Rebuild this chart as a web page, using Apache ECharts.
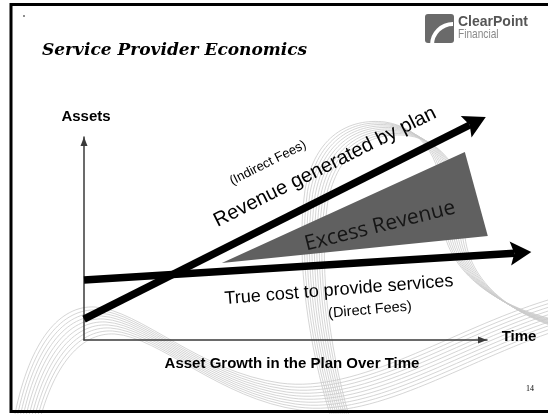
<!DOCTYPE html>
<html>
<head>
<meta charset="utf-8">
<script src="https://cdn.jsdelivr.net/npm/echarts@6/dist/echarts.min.js"></script>
<style>
  html, body { margin: 0; padding: 0; background: #fff; }
  #chart { width: 548px; height: 414px; }
</style>
</head>
<body>
<div id="chart"></div>
<script>
// Conceptual scale: time on x, plan assets on y (both 0..100 at the axis arrows)
const axisRange = [0, 100];

// Revenue generated by the plan (indirect fees): start point and arrow tip
const revenueLine = [[0, 10.3], [99.7, 109.9]];
// True cost to provide services (direct fees): start point and arrow tip
const costLine = [[0, 29.6], [111, 43.3]];
// Excess revenue wedge between the two lines
const excessArea = [[34.2, 37.9], [94.5, 92.6], [100.2, 51.2]];

const titleText = 'Service Provider Economics';
const yAxisName = 'Assets';
const xAxisName = 'Time';
const xAxisCaption = 'Asset Growth in the Plan Over Time';
const revenueLabel = 'Revenue generated by plan';
const revenueNote = '(Indirect Fees)';
const excessLabel = 'Excess Revenue';
const costLabel = 'True cost to provide services';
const costNote = '(Direct Fees)';
const pageNumber = '14';

const SANS = '"Liberation Sans", Arial, sans-serif';

// Thick arrow: body line plus a notched head, positioned through the axes
function arrowItem(points, color, width, headLen, headHalf, notch) {
  return function (params, api) {
    const p0 = api.coord(points[0]);
    const p1 = api.coord(points[1]);
    const dx = p1[0] - p0[0], dy = p1[1] - p0[1];
    const len = Math.sqrt(dx * dx + dy * dy);
    const ux = dx / len, uy = dy / len;
    const px = -uy, py = ux;
    const bx = p1[0] - ux * headLen, by = p1[1] - uy * headLen;
    const nx = p1[0] - ux * (headLen - notch), ny = p1[1] - uy * (headLen - notch);
    return {
      type: 'group',
      children: [
        {
          type: 'line',
          shape: { x1: p0[0], y1: p0[1], x2: nx, y2: ny },
          style: { stroke: color, lineWidth: width, lineCap: 'butt' }
        },
        {
          type: 'polygon',
          shape: { points: [
            [p1[0], p1[1]],
            [bx + px * headHalf, by + py * headHalf],
            [nx, ny],
            [bx - px * headHalf, by - py * headHalf]
          ] },
          style: { fill: color }
        }
      ]
    };
  };
}

// Decorative ribbon of thin grey curves behind the diagram
function ribbon(segments, count, ddx, ddy) {
  const els = [];
  for (let i = 0; i < count; i++) {
    segments.forEach(function (s) {
      els.push({
        type: 'bezierCurve',
        silent: true,
        z: 0,
        shape: {
          x1: s[0] + i * ddx, y1: s[1] + i * ddy,
          cpx1: s[2] + i * ddx, cpy1: s[3] + i * ddy,
          cpx2: s[4] + i * ddx, cpy2: s[5] + i * ddy,
          x2: s[6] + i * ddx, y2: s[7] + i * ddy
        },
        style: { stroke: '#cacaca', lineWidth: 0.8, fill: null }
      });
    });
  }
  return els;
}

const waveSegs = [
  [15, 414, 30, 340, 60, 305, 95, 307],
  [95, 307, 140, 310, 200, 372, 280, 383],
  [280, 383, 360, 394, 450, 330, 548, 300]
];
const loopSegs = [
  [330, 414, 310, 350, 295, 260, 305, 190],
  [305, 190, 315, 135, 350, 118, 385, 122],
  [385, 122, 425, 128, 445, 165, 442, 210],
  [442, 210, 440, 260, 480, 300, 548, 318]
];

function txt(text, x, y, font, fill, rot, align, sx) {
  return {
    type: 'text', x: x, y: y, rotation: (rot || 0) * Math.PI / 180, z: 100, silent: true,
    scaleX: sx || 1,
    style: {
      text: text, font: font, fill: fill || '#000',
      textAlign: align || 'center', textVerticalAlign: 'middle', verticalAlign: 'middle'
    }
  };
}

const chart = echarts.init(document.getElementById('chart'), null, { renderer: 'canvas' });

const option = {
  animation: false,
  backgroundColor: '#ffffff',
  grid: { left: 84, top: 137, width: 403, height: 203 },
  xAxis: {
    type: 'value', min: axisRange[0], max: axisRange[1],
    splitLine: { show: false }, axisTick: { show: false }, axisLabel: { show: false },
    axisLine: {
      show: true, symbol: ['none', 'triangle'], symbolSize: [7, 9], symbolOffset: [0, -4.5],
      lineStyle: { color: '#3a3a3a', width: 1.5 }
    }
  },
  yAxis: {
    type: 'value', min: axisRange[0], max: axisRange[1],
    splitLine: { show: false }, axisTick: { show: false }, axisLabel: { show: false },
    axisLine: {
      show: true, symbol: ['none', 'triangle'], symbolSize: [7, 9], symbolOffset: [0, -4.5],
      lineStyle: { color: '#3a3a3a', width: 1.5 }
    }
  },
  series: [
    {
      name: excessLabel, type: 'custom', silent: true, clip: false, z: 3,
      data: [excessArea.flat()],
      renderItem: function (params, api) {
        return {
          type: 'polygon',
          shape: { points: excessArea.map(function (p) { return api.coord(p); }) },
          style: { fill: '#606060' }
        };
      }
    },
    {
      name: costLabel, type: 'custom', silent: true, clip: false, z: 4,
      data: [costLine.flat()],
      renderItem: arrowItem(costLine, '#000', 7.5, 21, 12, 4)
    },
    {
      name: revenueLabel, type: 'custom', silent: true, clip: false, z: 5,
      data: [revenueLine.flat()],
      renderItem: arrowItem(revenueLine, '#000', 7.5, 22, 12, 4)
    }
  ],
  graphic: [].concat(
    ribbon(waveSegs, 10, 2.2, 3),
    ribbon(loopSegs, 10, 2.5, 1.5),
    [
      // slide frame and marker dot
      { type: 'rect', z: 90, silent: true, shape: { x: 11, y: 4.5, width: 600, height: 407 },
        style: { fill: null, stroke: '#000', lineWidth: 3 } },
      { type: 'circle', z: 90, silent: true, shape: { cx: 24, cy: 16, r: 0.8 }, style: { fill: '#000' } },
      // logo mark
      { type: 'rect', z: 90, silent: true, shape: { x: 425, y: 14, width: 29, height: 29, r: 3 },
        style: { fill: '#6a6a6a' } },
      { type: 'arc', z: 91, silent: true, shape: { cx: 453, cy: 45, r: 21, startAngle: Math.PI, endAngle: Math.PI * 1.5 },
        style: { stroke: '#fff', lineWidth: 4, fill: null } },
      txt('ClearPoint', 458, 22, 'bold 14px ' + SANS, '#555', 0, 'left'),
      txt('Financial', 458, 34, '13px ' + SANS, '#8a8a8a', 0, 'left', 0.78),
      // title
      txt(titleText, 42, 51, 'italic bold 17px "DejaVu Serif", serif', '#000', 0, 'left'),
      // axis names
      txt(yAxisName, 86, 117, 'bold 15px ' + SANS, '#000'),
      txt(xAxisName, 519, 337, 'bold 15px ' + SANS, '#000'),
      txt(xAxisCaption, 292, 364, 'bold 15px ' + SANS, '#000'),
      // line annotations
      txt(revenueLabel, 325, 167, '20px ' + SANS, '#000', 26.6),
      txt(revenueNote, 268, 163, '13px ' + SANS, '#000', 26.8),
      txt(excessLabel, 380, 226, '21px "Open Sans", sans-serif', '#151515', 14),
      txt(costLabel, 339, 290, '18px ' + SANS, '#000', 4.5),
      txt(costNote, 370, 310, '14.5px ' + SANS, '#000', 5),
      txt(pageNumber, 530, 389, '8px "Liberation Serif", serif', '#000')
    ]
  )
};

chart.setOption(option);
</script>
</body>
</html>
